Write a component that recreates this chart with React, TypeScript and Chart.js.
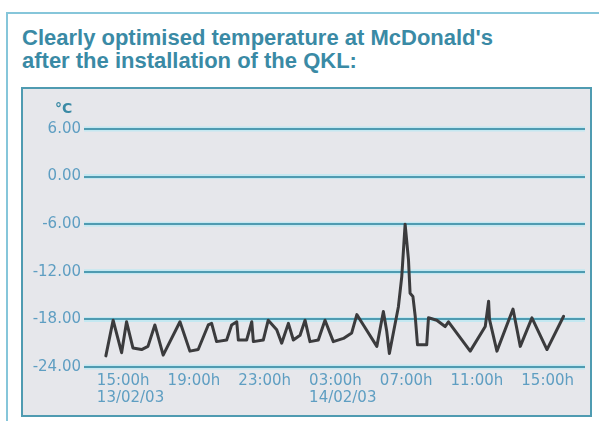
import React, { useEffect, useRef } from "react";
import { Chart, registerables } from "chart.js";

Chart.register(...registerables);

const titleLines = ["Clearly optimised temperature at McDonald's", "after the installation of the QKL:"];
const unitLabel = "°C";

// hours after 15:00h on 13/02/03
const hours = [
  0.51, 0.92, 1.4, 1.68, 2.04, 2.53, 2.89, 3.28, 3.75, 4.7, 5.26, 5.73, 6.3, 6.49, 6.77, 7.34, 7.62, 7.91, 8.0,
  8.47, 8.76, 8.85, 9.41, 9.69, 10.17, 10.45, 10.83, 11.11, 11.49, 11.77, 12.05, 12.52, 12.9, 13.37, 13.94,
  14.41, 14.7, 15.07, 15.83, 16.2, 16.39, 16.54, 17.05, 17.24, 17.43, 17.62, 17.71, 17.87, 18.0, 18.13, 18.65,
  18.75, 19.22, 19.69, 19.88, 21.11, 21.96, 22.15, 22.2, 22.62, 23.53, 23.94, 24.6, 25.45, 26.39,
];
const temperatures = [
  -22.6, -18.1, -22.2, -18.3, -21.6, -21.8, -21.4, -18.7, -22.5, -18.3, -22.0, -21.8, -18.7, -18.5, -20.8,
  -20.6, -18.7, -18.3, -20.6, -20.6, -18.3, -20.8, -20.6, -18.1, -19.3, -21.0, -18.5, -20.6, -20.0, -18.1,
  -20.8, -20.6, -18.1, -20.8, -20.4, -19.7, -17.4, -18.7, -21.4, -17.0, -19.5, -22.3, -16.4, -12.6, -6.0,
  -10.5, -14.7, -15.1, -17.6, -21.2, -21.2, -17.8, -18.1, -18.9, -18.3, -22.0, -18.9, -15.7, -18.0, -22.0,
  -16.7, -21.4, -17.8, -21.8, -17.6,
];

const xTickHours = [0, 4, 8, 12, 16, 20, 24];
const xTimeLabels = ["15:00h", "19:00h", "23:00h", "03:00h", "07:00h", "11:00h", "15:00h"];
const xDateLabels = ["13/02/03", "", "", "14/02/03", "", "", ""];
const yTicks = [-24, -18, -12, -6, 0, 6];

const TEAL = "#3a8aa5";
const GRID = "#4f9bb1";
const HALO = "#c4e8f1";
const TICK_TEXT = "#5e9ec2";
const FONT = "'DejaVu Sans', Verdana, sans-serif";

const haloPlugin = {
  id: "gridHalo",
  beforeDraw(chart: any) {
    const y = chart.scales.y;
    const area = chart.chartArea;
    if (!y || !area) return;
    const ctx = chart.ctx;
    ctx.save();
    ctx.strokeStyle = HALO;
    ctx.lineWidth = 5;
    yTicks.forEach((v) => {
      const py = y.getPixelForValue(v);
      ctx.beginPath();
      ctx.moveTo(area.left - 4, py);
      ctx.lineTo(area.right, py);
      ctx.stroke();
    });
    ctx.restore();
  },
};

export default function App() {
  const canvasRef = useRef<HTMLCanvasElement | null>(null);

  useEffect(() => {
    if (!canvasRef.current) return;
    const data = hours.map((h, i) => ({ x: h, y: temperatures[i] }));
    const chart = new Chart(canvasRef.current, {
      type: "line",
      data: {
        datasets: [
          {
            data,
            borderColor: "#3b3b3d",
            borderWidth: 3,
            pointRadius: 0,
            tension: 0,
            fill: false,
            borderJoinStyle: "round",
            borderCapStyle: "round",
          },
        ],
      },
      plugins: [haloPlugin],
      options: {
        animation: false,
        responsive: false,
        devicePixelRatio: 1,
        layout: { padding: { top: 40, right: 5, left: 0, bottom: 0 } },
        plugins: { legend: { display: false }, tooltip: { enabled: false }, title: { display: false } },
        scales: {
          x: {
            type: "linear",
            min: -0.5,
            max: 27.6,
            afterFit: (s: any) => {
              s.height = 51;
            },
            afterBuildTicks: (s: any) => {
              s.ticks = xTickHours.map((v) => ({ value: v }));
            },
            grid: { display: false, drawTicks: false },
            border: { display: false },
            ticks: {
              autoSkip: false,
              maxRotation: 0,
              align: "start",
              padding: 5,
              color: TICK_TEXT,
              font: { family: FONT, size: 15, lineHeight: 1.15 },
              callback: (v: any) => {
                const i = xTickHours.indexOf(Number(v));
                if (i < 0) return "";
                return xDateLabels[i] ? [xTimeLabels[i], xDateLabels[i]] : xTimeLabels[i];
              },
            },
          },
          y: {
            min: -24,
            max: 6,
            afterFit: (s: any) => {
              s.width = 65;
            },
            afterBuildTicks: (s: any) => {
              s.ticks = yTicks.map((v) => ({ value: v }));
            },
            grid: { color: GRID, lineWidth: 2, drawTicks: true, tickLength: 4, tickColor: GRID },
            border: { display: false },
            ticks: {
              padding: 3,
              color: TICK_TEXT,
              font: { family: FONT, size: 15 },
              callback: (v: any) => Number(v).toFixed(2),
            },
          },
        },
      },
    });
    return () => chart.destroy();
  }, []);

  return (
    <div
      style={{
        position: "absolute",
        left: 0,
        top: 0,
        width: 599,
        height: 421,
        overflow: "hidden",
        background: "#ffffff",
      }}
    >
      <div
        style={{
          position: "absolute",
          left: 6,
          top: 12,
          width: 640,
          height: 440,
          border: "2px solid #86c6da",
        }}
      />
      <div
        style={{
          position: "absolute",
          left: 22,
          top: 26,
          fontFamily: "'Liberation Sans', Arial, sans-serif",
          fontWeight: "bold",
          fontSize: 22,
          lineHeight: "23px",
          color: TEAL,
          whiteSpace: "nowrap",
        }}
      >
        {titleLines.map((t, i) => (
          <div key={i}>{t}</div>
        ))}
      </div>
      <div
        style={{
          position: "absolute",
          left: 21,
          top: 87,
          width: 567,
          height: 326,
          border: "2px solid #4f9bb1",
          background: "#e6e7eb",
        }}
      >
        <canvas ref={canvasRef} width={567} height={329} style={{ position: "absolute", left: 0, top: 0 }} />
        <div
          style={{
            position: "absolute",
            left: 32,
            top: 11,
            fontFamily: FONT,
            fontWeight: "bold",
            fontSize: 14,
            color: TEAL,
          }}
        >
          {unitLabel}
        </div>
      </div>
    </div>
  );
}
